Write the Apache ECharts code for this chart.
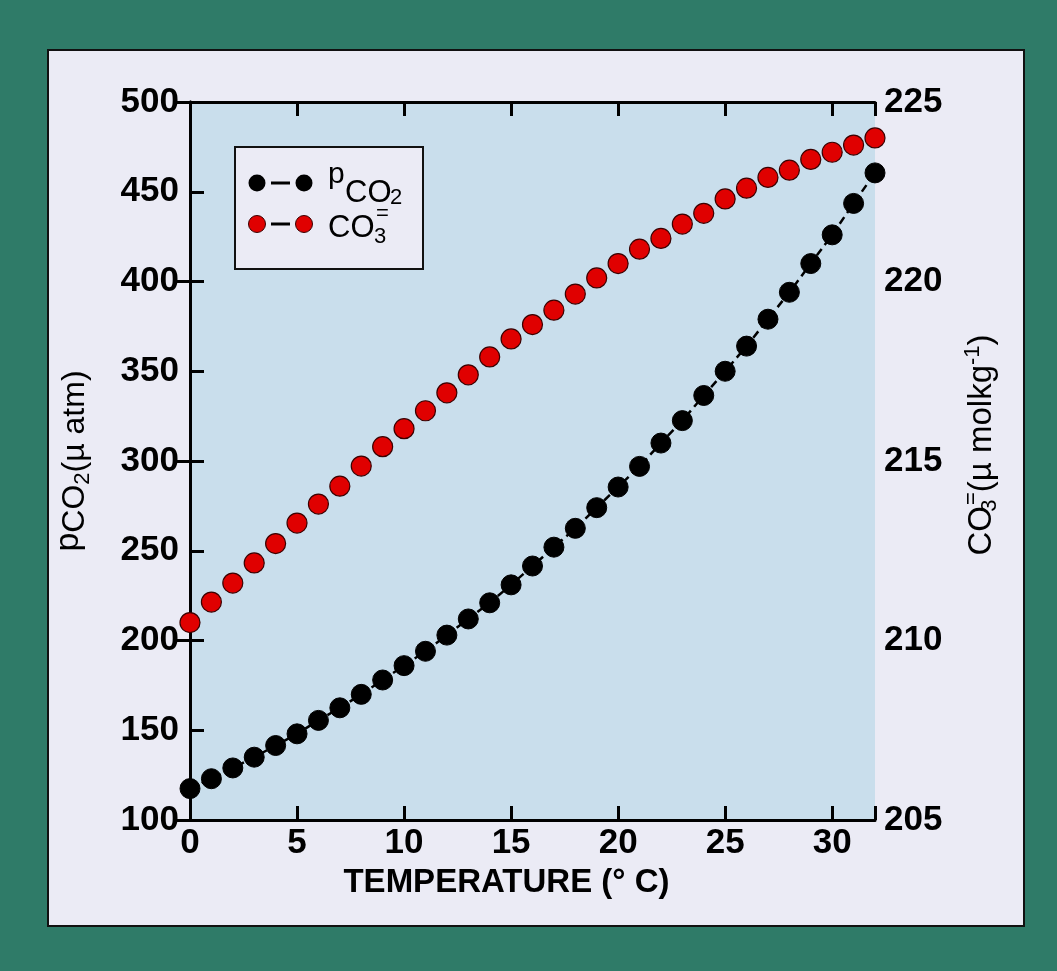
<!DOCTYPE html>
<html>
<head>
<meta charset="utf-8">
<script src="https://cdn.jsdelivr.net/npm/echarts@6/dist/echarts.min.js"></script>
<style>
  html, body { margin: 0; padding: 0; background: #2f7b68; }
  #panel { position: absolute; left: 47px; top: 49px; width: 974px; height: 874px; background: #ebebf5; border: 2px solid #111; }
  #chart { position: absolute; left: 0; top: 0; width: 1057px; height: 971px; }
</style>
</head>
<body>
<div id="panel"></div>
<div id="chart"></div>
<script>
// Temperature (°C)
const temperature = [0,1,2,3,4,5,6,7,8,9,10,11,12,13,14,15,16,17,18,19,20,21,22,23,24,25,26,27,28,29,30,31,32];
// pCO2 (µatm), left axis
const pco2 = [117.5,123,129,135,141.5,148,155.5,162.5,170,178,186,194,203,212,221,231,241.5,252,262.5,274,285.5,297,310,322.5,336.5,350,364,379,394,410,426,443.5,460.5];
// CO3= (µmol/kg), right axis
const co3 = [210.5,211.07,211.6,212.16,212.7,213.27,213.8,214.3,214.86,215.4,215.9,216.4,216.9,217.4,217.9,218.4,218.8,219.2,219.65,220.1,220.5,220.9,221.2,221.6,221.9,222.3,222.6,222.9,223.1,223.4,223.6,223.8,224.0];
// Tick settings
const xTicks = { min: 0, max: 32, interval: 5 };
const yLeftTicks = { min: 100, max: 500, interval: 50 };
const yRightTicks = { min: 205, max: 225, interval: 5 };

const FONT = '"Liberation Sans", Arial, Helvetica, sans-serif';
const chart = echarts.init(document.getElementById('chart'), null, { renderer: 'canvas' });

const axisLine = { show: true, lineStyle: { color: '#000', width: 3 } };
const axisTick = { show: true, inside: true, length: 14, lineStyle: { color: '#000', width: 3 } };
const labelStyle = { color: '#000', fontFamily: FONT, fontWeight: 'bold', fontSize: 35 };

const leftRich = {
  p: { fontFamily: FONT, fontSize: 34, color: '#000', padding: [0, 0, 12, 0] },
  co: { fontFamily: FONT, fontSize: 32, color: '#000' },
  s: { fontFamily: FONT, fontSize: 22, color: '#000', padding: [16, 0, 0, 0] },
  n: { fontFamily: FONT, fontSize: 32, color: '#000' }
};
const rightRich = {
  co: { fontFamily: FONT, fontSize: 33, color: '#000' },
  st: { fontFamily: FONT, fontSize: 22, color: '#000', padding: [16, 0, 0, 0], width: 1 },
  sup: { fontFamily: FONT, fontSize: 22, color: '#000', padding: [0, 0, 20, 0] },
  n: { fontFamily: FONT, fontSize: 33, color: '#000' },
  sup2: { fontFamily: FONT, fontSize: 22, color: '#000', padding: [0, 0, 18, 0] }
};

const legendText = (x, y, text, size) => ({
  type: 'text', x: x, y: y,
  style: { text: text, fontFamily: FONT, fontSize: size, fill: '#000', verticalAlign: 'middle', align: 'left' }
});

const option = {
  animation: false,
  backgroundColor: 'transparent',
  grid: { left: 190, right: 182, top: 102, bottom: 151, show: true, backgroundColor: '#c9deec', borderWidth: 0 },
  xAxis: [
    {
      type: 'value', position: 'bottom', min: xTicks.min, max: xTicks.max, interval: xTicks.interval,
      axisLine, axisTick, splitLine: { show: false },
      axisLabel: Object.assign({ margin: 6, formatter: v => (v % 5 === 0 ? String(v) : '') }, labelStyle),
      name: 'TEMPERATURE (° C)', nameLocation: 'middle', nameGap: 46,
      nameTextStyle: { fontFamily: FONT, fontWeight: 'bold', fontSize: 33, color: '#000', padding: [0, 52, 0, 0] }
    },
    {
      type: 'value', position: 'top', min: xTicks.min, max: xTicks.max, interval: xTicks.interval,
      axisLine, axisTick, splitLine: { show: false }, axisLabel: { show: false }
    }
  ],
  yAxis: [
    {
      type: 'value', position: 'left', min: yLeftTicks.min, max: yLeftTicks.max, interval: yLeftTicks.interval,
      axisLine, axisTick, splitLine: { show: false },
      axisLabel: Object.assign({ margin: 11 }, labelStyle),
      name: '{p|p}{co|CO}{s|2}{n|(µ atm)}', nameLocation: 'middle', nameGap: 92, nameRotate: 90,
      nameTextStyle: { rich: leftRich }
    },
    {
      type: 'value', position: 'right', min: yRightTicks.min, max: yRightTicks.max, interval: yRightTicks.interval,
      axisLine, axisTick, splitLine: { show: false },
      axisLabel: Object.assign({ margin: 9 }, labelStyle),
      name: '{co|CO}{st|3}{sup|=}{n|(µ molkg}{sup2|-1}{n|)}', nameLocation: 'middle', nameGap: 86, nameRotate: 90,
      nameTextStyle: { rich: rightRich, padding: [0, 0, 0, 32] }
    }
  ],
  series: [
    {
      name: 'pCO2', type: 'line', xAxisIndex: 0, yAxisIndex: 0,
      data: temperature.map((t, i) => [t, pco2[i]]),
      symbol: 'circle', symbolSize: 20, clip: false,
      itemStyle: { color: '#000', borderColor: '#000', borderWidth: 1 },
      lineStyle: { color: '#000', width: 2.5, type: [8, 5] },
      z: 3
    },
    {
      name: 'CO3', type: 'line', xAxisIndex: 0, yAxisIndex: 1,
      data: temperature.map((t, i) => [t, co3[i]]),
      symbol: 'circle', symbolSize: 20, clip: false,
      itemStyle: { color: '#e00000', borderColor: '#3a0000', borderWidth: 1.2 },
      lineStyle: { opacity: 0 },
      z: 4
    }
  ],
  graphic: [
    {
      type: 'group', z: 100,
      children: [
        { type: 'rect', shape: { x: 235, y: 147, width: 188, height: 122 }, style: { fill: '#ebebf5', stroke: '#111', lineWidth: 2 } },
        { type: 'line', shape: { x1: 271, y1: 183, x2: 290, y2: 183 }, style: { stroke: '#000', lineWidth: 3 } },
        { type: 'circle', shape: { cx: 257, cy: 183, r: 8.5 }, style: { fill: '#000' } },
        { type: 'circle', shape: { cx: 304, cy: 183, r: 8.5 }, style: { fill: '#000' } },
        { type: 'line', shape: { x1: 271, y1: 224, x2: 290, y2: 224 }, style: { stroke: '#000', lineWidth: 3 } },
        { type: 'circle', shape: { cx: 257, cy: 224, r: 8.5 }, style: { fill: '#e00000', stroke: '#3a0000', lineWidth: 1 } },
        { type: 'circle', shape: { cx: 304, cy: 224, r: 8.5 }, style: { fill: '#e00000', stroke: '#3a0000', lineWidth: 1 } },
        legendText(328, 175, 'p', 30),
        legendText(345, 193, 'CO', 31),
        legendText(390, 198, '2', 22),
        legendText(328, 228, 'CO', 31),
        legendText(374, 237, '3', 22),
        legendText(376, 214, '=', 22)
      ]
    }
  ]
};
chart.setOption(option);
</script>
</body>
</html>
